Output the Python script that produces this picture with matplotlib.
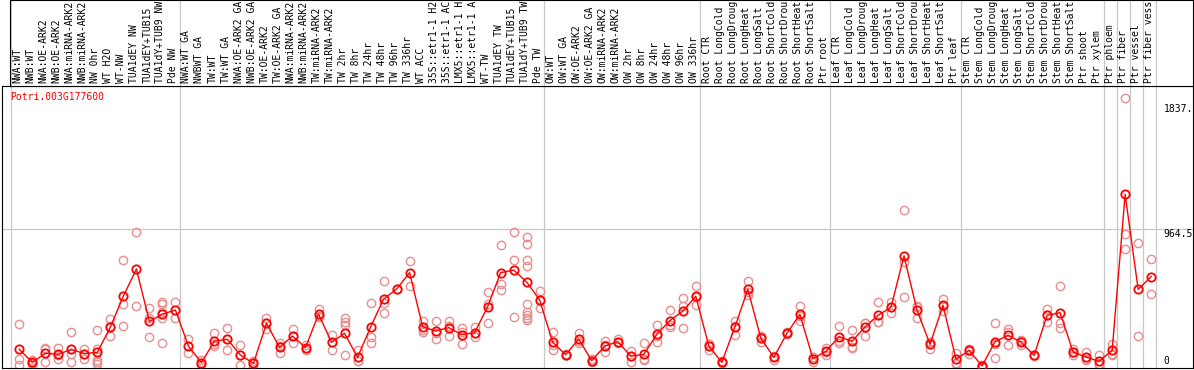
import numpy as np
import matplotlib
matplotlib.use("Agg")
import matplotlib.pyplot as plt
from matplotlib.transforms import blended_transform_factory

# ── data ──
gene = "Potri.003G177600"

samples = [
    "NWA:WT", "NWB:WT", "NWA:OE-ARK2", "NWB:OE-ARK2", "NWA:miRNA-ARK2",
    "NWB:miRNA-ARK2", "NW 0hr", "WT H2O", "WT-NW", "TUA1dEY NW",
    "TUA1dEY+TUB15", "TUA1dY+TUB9 NW", "Pde NW",
    "NWA:WT GA", "NWBWT GA", "TW:WT", "TW:WT GA", "NWA:OE-ARK2 GA",
    "NWB:OE-ARK2 GA", "TW:OE-ARK2", "TW:OE-ARK2 GA", "NWA:miRNA-ARK2",
    "NWB:miRNA-ARK2", "TW:miRNA-ARK2", "TW:miRNA-ARK2", "TW 2hr", "TW 8hr",
    "TW 24hr", "TW 48hr", "TW 96hr", "TW 336hr", "WT ACC", "35S::etr1-1 H2",
    "35S::etr1-1 AC", "LMX5::etr1-1 H", "LMX5::etr1-1 A", "WT-TW",
    "TUA1dEY TW", "TUA1dEY+TUB15", "TUA1dY+TUB9 TW", "Pde TW",
    "OW:WT", "OW:WT GA", "OW:OE-ARK2", "OW:OE-ARK2 GA", "OW:miRNA-ARK2",
    "OW:miRNA-ARK2", "OW 2hr", "OW 8hr", "OW 24hr", "OW 48hr", "OW 96hr",
    "OW 336hr",
    "Root CTR", "Root LongCold", "Root LongDroug", "Root LongHeat",
    "Root LongSalt", "Root ShortCold", "Root ShortDrou", "Root ShortHeat",
    "Root ShortSalt", "Ptr root",
    "Leaf CTR", "Leaf LongCold", "Leaf LongDroug", "Leaf LongHeat",
    "Leaf LongSalt", "Leaf ShortCold", "Leaf ShortDrou", "Leaf ShortHeat",
    "Leaf ShortSalt", "Ptr leaf",
    "Stem CTR", "Stem LongCold", "Stem LongDroug", "Stem LongHeat",
    "Stem LongSalt", "Stem ShortCold", "Stem ShortDrou", "Stem ShortHeat",
    "Stem ShortSalt", "Ptr shoot", "Ptr xylem",
    "Ptr phloem", "Ptr fiber", "Ptr vessel", "Ptr fiber vess",
]
group_sizes = [13, 28, 12, 10, 10, 11, 1, 1, 1, 1]

means = [
    120, 29, 92, 85, 120, 90, 99, 276, 493, 682,
    316, 367, 395, 143, 27, 178, 190, 80, 22, 302,
    134, 213, 132, 367, 169, 232, 64, 276, 472, 542,
    657, 279, 248, 272, 223, 237, 419, 657, 675, 591,
    465, 169, 83, 192, 41, 143, 174, 73, 85, 225,
    321, 388, 491, 143, 29, 276, 540, 197, 64, 232,
    365, 55, 106, 209, 176, 276, 358, 414, 774, 395,
    155, 428, 50, 113, 4, 174, 218, 171, 78, 358,
    377, 101, 66, 36, 113, 1205, 540, 629,
]

replicates = [
    [295, 50, 10], [45, 22, 20], [132, 122, 34], [127, 78, 50], [239, 87, 34],
    [120, 90, 50], [256, 120, 45, 30, 20], [332, 285, 211], [745, 435, 283],
    [941, 421], [409, 342, 206], [454, 440, 384, 342, 162], [449, 342],
    [190, 92], [45, 27, 10], [232, 157, 143], [270, 190, 113], [150, 82, 8],
    [40, 22, 0], [342, 302, 262], [166, 144, 92], [262, 213, 162],
    [150, 132, 115], [400, 353, 349], [218, 175, 115], [337, 314, 290, 80],
    [115, 40, 38], [442, 209, 162], [598, 442, 372], [542], [738, 566],
    [321, 255, 239], [321, 233, 190], [321, 282, 213], [267, 245, 157],
    [274, 233, 204], [519, 436, 302], [850, 577, 535], [941, 745, 344],
    [909, 855, 745, 703, 437, 384, 360, 342, 325], [528, 460, 407],
    [244, 150, 115], [90, 80, 78], [232, 182, 162], [55, 40, 29],
    [181, 150, 99], [190, 174, 162], [111, 74, 34], [162, 55, 45],
    [290, 211, 174], [395, 290, 279], [477, 426, 267], [561, 484, 428],
    [157, 157, 115], [40, 29, 22], [321, 287, 220], [598, 524, 498],
    [211, 209, 169], [75, 64, 45], [244, 232, 225], [424, 352, 319],
    [66, 64, 34], [132, 104, 82], [283, 178, 166], [255, 138, 127],
    [308, 307, 213], [449, 314, 311], [455, 415, 372], [1095, 734, 484],
    [424, 419, 342], [172, 170, 122], [471, 426, 387], [97, 27, 15],
    [120, 108, 90], [10, 4, 0], [307, 158, 57], [260, 241, 148],
    [185, 180, 148], [80, 78, 75], [400, 360, 314], [561, 307, 267],
    [120, 105, 78], [104, 51, 43], [78, 20, 8], [160, 90, 78],
    [1877, 925, 820], [862, 213], [755, 505],
]

tick_values = [1837, 964.5, 0]
tick_labels = ["1837.", "964.5", "0"]

# ── layout (pixels of the 1194x370 canvas) ──
W, H = 1194, 370
fig = plt.figure(figsize=(W / 100, H / 100), dpi=100)

x0_px, step_px = 19.3, 13.01          # first sample position, spacing
def px2x(p):
    return (p - x0_px) / step_px

main = fig.add_axes([2 / W, 2 / H, (1193 - 2) / W, (368 - 86) / H])
head = fig.add_axes([10 / W, (H - 86) / H, (1193 - 10) / W, 86 / H])

main.set_xlim(px2x(2), px2x(1193))
main.set_ylim(-10.5, 1963.5)
head.set_xlim(px2x(10), px2x(1193))
head.set_ylim(0, 1)

for ax in (main, head):
    ax.set_xticks([])
    ax.set_yticks([])
    for sp in ax.spines.values():
        sp.set_color("black")
        sp.set_linewidth(0.8)

x = np.arange(len(samples))
grid_c = "#c8c8c8"

# group separators
bounds = np.concatenate([[0], np.cumsum(group_sizes)]) - 0.65
for b in bounds:
    main.axvline(b, color=grid_c, lw=0.9, zorder=0)
    head.axvline(b, color=grid_c, lw=0.9, zorder=0)
main.axhline(tick_values[1], color=grid_c, lw=0.9, zorder=0)

# replicates
rx = np.concatenate([[i] * len(r) for i, r in enumerate(replicates)])
ry = np.concatenate(replicates)
main.plot(rx, ry, "o", ms=6, mfc="none", mec="#e88e8e", mew=1.0, zorder=2)

# means
main.plot(x, means, "-", color="red", lw=1.0, zorder=3)
main.plot(x, means, "o", ms=6, mfc="none", mec="red", mew=1.3, zorder=4)

# right-hand value labels
tr = blended_transform_factory(main.transAxes, main.transData)
for v, lab in zip(tick_values, tick_labels):
    main.text(0.9755, v, lab, transform=tr, family="DejaVu Sans Mono",
              fontsize=7, ha="left", va="bottom" if v == 0 else "top")

main.text(0.0067, 0.961, gene, transform=main.transAxes, color="red",
          family="DejaVu Sans Mono", fontsize=7, ha="left", va="center")

# sample labels in the header
for i, s in enumerate(samples):
    head.text(i - 0.15, 0.035, s, rotation=90, ha="center", va="bottom",
              family="DejaVu Sans Mono", fontsize=7, clip_on=True)

fig.savefig("out.png", dpi=100)
